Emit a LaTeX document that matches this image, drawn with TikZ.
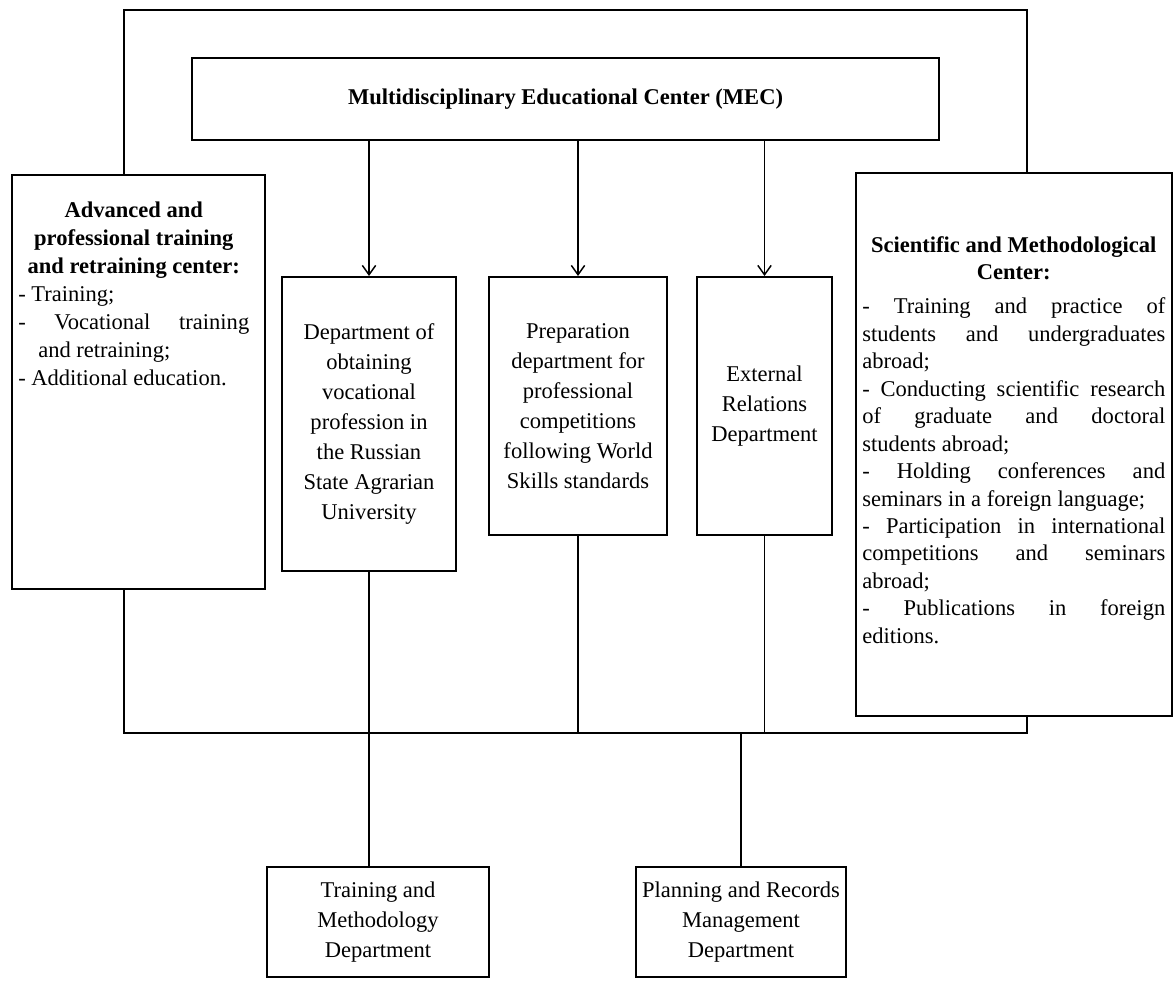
\documentclass[tikz,border=0pt]{standalone}
\usepackage{fontspec}
\setmainfont{Liberation Serif}
\usetikzlibrary{arrows.meta}

\begin{document}
\begin{tikzpicture}[x=0.75pt,y=0.75pt,yscale=-1,xscale=1,
    box/.style={draw, line width=1.5pt, fill=white, inner sep=0pt, align=center},
    conn/.style={line width=1.1pt},
    tip/.style={-{Straight Barb[length=7pt,width=10pt]}},
    txt/.style={inner sep=0pt, align=justify, execute at begin node={\parindent=0pt}},
    font=\fontsize{16.9}{22.5}\selectfont]
        \useasboundingbox (0,0) rectangle (1173,981);

        %Shape: Rectangle (outer frame)
        \draw [conn] (124,10) rectangle (1027,733) ;
        \coordinate (bus) at (124,733);

        %Shape: Rectangle
        \node [box, minimum width=560.25pt, minimum height=61.5pt, font=\fontsize{16.9}{22.5}\selectfont\bfseries] (mec) at (565.5,99) {Multidisciplinary Educational Center (MEC)};
        %Shape: Rectangle
        \node [box, minimum width=189.75pt, minimum height=310.5pt] (advc) at (138.5,382) {};
        %Shape: Rectangle
        \node [box, minimum width=237pt, minimum height=407.25pt] (smc) at (1014,444.5) {};
        %Shape: Rectangle
        \node [box, minimum width=130.5pt, minimum height=220.5pt] (dvp) at (369,424) {Department of\\ obtaining\\ vocational\\ profession in\\ the Russian\\ State Agrarian\\ University};
        %Shape: Rectangle
        \node [box, minimum width=133.5pt, minimum height=193.5pt] (prep) at (578,406) {Preparation\\ department for\\ professional\\ competitions\\ following World\\ Skills standards};
        %Shape: Rectangle
        \node [box, minimum width=101.25pt, minimum height=193.5pt] (extrel) at (764.5,406) {External\\ Relations\\ Department};
        %Shape: Rectangle
        \node [box, minimum width=166.5pt, minimum height=82.5pt] (tmd) at (378,922) {Training and\\ Methodology\\ Department};
        %Shape: Rectangle
        \node [box, minimum width=157.5pt, minimum height=82.5pt] (prmd) at (741,922) {Planning and Records\\ Management\\ Department};

        %Straight Lines
        \draw [conn, tip] (dvp.north |- mec.south) -- (dvp.north) ;
        %Straight Lines
        \draw [conn, tip] (prep.north |- mec.south) -- (prep.north) ;
        %Straight Lines
        \draw [conn, tip] (extrel.north |- mec.south) -- (extrel.north) ;
        %Straight Lines
        \draw [conn] (dvp.south) -- (dvp.south |- tmd.north) ;
        %Straight Lines
        \draw [conn] (prep.south) -- (prep.south |- bus) ;
        %Straight Lines
        \draw [conn] (extrel.south) -- (extrel.south |- bus) ;
        %Straight Lines
        \draw [conn] (prmd.north) -- (prmd.north |- bus) ;

        % Text Node
        \node [txt, text width=173.25pt, anchor=north west, font=\fontsize{16.9}{21}\selectfont] (advctext) at (18,202) {{\centering\bfseries Advanced and\\ professional training\\ and retraining center:\par}
            - Training;\par
            \hangindent=15pt\hangafter=1 - Vocational training\linebreak and retraining;\par
            - Additional education.};
        % Text Node
        \node [txt, text width=227.25pt, anchor=north west, font=\fontsize{16.9}{20.6}\selectfont] (smctext) at (862,236) {{\centering\bfseries Scientific and Methodological\\ Center:\par}\vspace{5pt}
            - Training and practice of\linebreak students and undergraduates\linebreak abroad;\par
            - Conducting scientific research\linebreak of graduate and doctoral\linebreak students abroad;\par
            - Holding conferences and\linebreak seminars in a foreign language;\par
            - Participation in international\linebreak competitions and seminars\linebreak abroad;\par
            - Publications in foreign\linebreak editions.};

\end{tikzpicture}
\end{document}
